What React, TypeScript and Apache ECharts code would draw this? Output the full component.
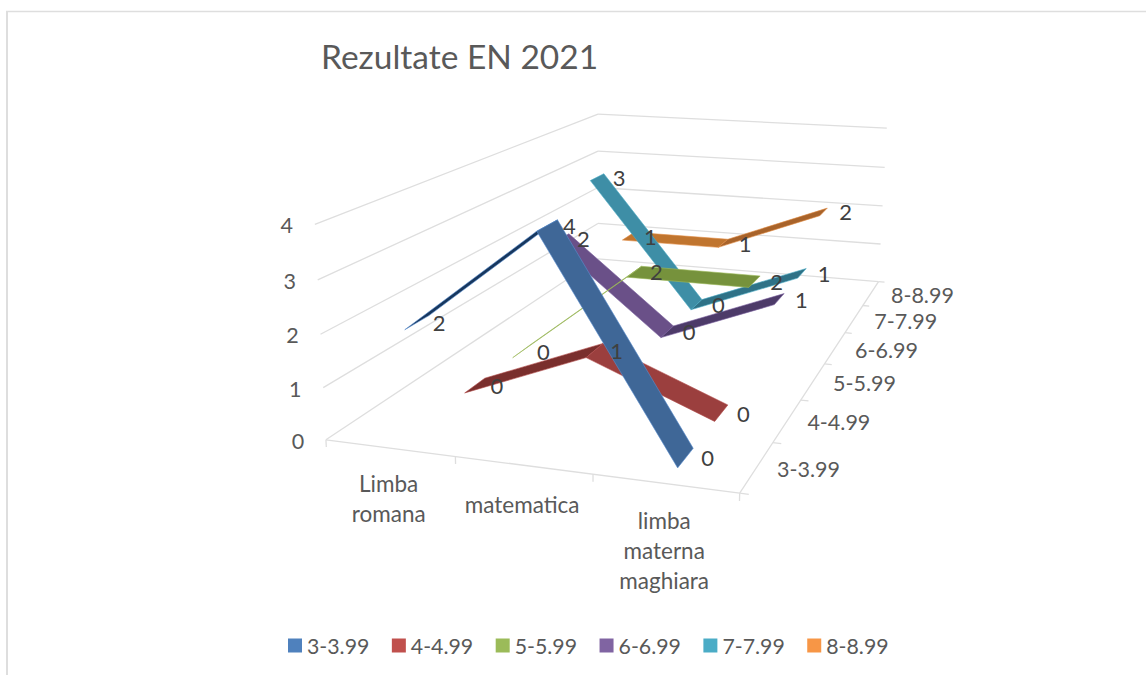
import React, { useEffect, useRef } from "react";
import * as echarts from "echarts";

const categories = ["Limba\nromana", "matematica", "limba\nmaterna\nmaghiara"];
const seriesNames = ["3-3.99", "4-4.99", "5-5.99", "6-6.99", "7-7.99", "8-8.99"];
const values3 = [2, 4, 0];
const values4 = [0, 1, 0];
const values5 = [0, 2, 2];
const values6 = [2, 0, 1];
const values7 = [3, 0, 1];
const values8 = [1, 1, 2];
const allValues = [values3, values4, values5, values6, values7, values8];
const valueTicks = [0, 1, 2, 3, 4];

const legendColors = ["#4f81bd", "#c0504d", "#9bbb59", "#8064a2", "#4bacc6", "#f79646"];
// colour of the two ribbon segments of each series (lit face)
const segmentColors = [
  ["#17375e", "#3f6797"],
  ["#7a2f2d", "#9b3f3e"],
  ["#8aa84e", "#76923c"],
  ["#6a5088", "#4d3b69"],
  ["#3e8ea6", "#2f7287"],
  ["#c0752f", "#a8632a"],
];
const edgeColors = ["#5b8fd0", "#b04a48", "#9dbb5c", "#7a5fa0", "#4bacc6", "#e08a40"];
const categoryLabelShift = [20, 24, 22];

// camera calibration: [x (category), y (value), z (series), screen x, screen y]
const calibration = [
  [0, 0, 0, 326, 440], [0, 1, 0, 323, 387], [0, 2, 0, 320, 334], [0, 3, 0, 318, 280], [0, 4, 0, 315, 225],
  [0, 0, 6, 598, 259], [0, 1, 6, 598, 223], [0, 2, 6, 598, 188], [0, 3, 6, 598, 151], [0, 4, 6, 598, 114],
  [3, 0, 6, 878, 282], [3, 1, 6, 881, 244], [3, 2, 6, 883, 206], [3, 3, 6, 884, 167], [3, 4, 6, 887, 128],
  [3, 0, 0, 740, 493],
];

function solveCamera(): number[] {
  const n = 11;
  const ata = Array.from({ length: n }, () => new Array(n + 1).fill(0));
  const add = (row: number[], rhs: number) => {
    for (let i = 0; i < n; i++) {
      for (let j = 0; j < n; j++) ata[i][j] += row[i] * row[j];
      ata[i][n] += row[i] * rhs;
    }
  };
  calibration.forEach(([x, y, z, px, py]) => {
    const u = px / 1000;
    const v = py / 1000;
    add([x, y, z, 1, 0, 0, 0, 0, -u * x, -u * y, -u * z], u);
    add([0, 0, 0, 0, x, y, z, 1, -v * x, -v * y, -v * z], v);
  });
  for (let c = 0; c < n; c++) {
    let p = c;
    for (let r = c + 1; r < n; r++) if (Math.abs(ata[r][c]) > Math.abs(ata[p][c])) p = r;
    [ata[c], ata[p]] = [ata[p], ata[c]];
    for (let r = 0; r < n; r++) {
      if (r === c) continue;
      const f = ata[r][c] / ata[c][c];
      for (let k = c; k <= n; k++) ata[r][k] -= f * ata[c][k];
    }
  }
  return ata.map((row, i) => row[n] / row[i]);
}

const cam = solveCamera();
function project(x: number, y: number, z: number): number[] {
  const w = cam[8] * x + cam[9] * y + cam[10] * z + 1;
  return [
    (1000 * (cam[0] * x + cam[1] * y + cam[2] * z + cam[3])) / w,
    (1000 * (cam[4] * x + cam[5] * y + cam[6] * z + cam[7])) / w,
  ];
}

const RIBBON_HALF_DEPTH = 0.2;
const FONT = "Lato, Carlito, 'Open Sans', sans-serif";
const GRID = "#dedede";
const TEXT = "#595959";

function line(a: number[], b: number[], width = 1.3) {
  return {
    type: "line",
    shape: { x1: a[0], y1: a[1], x2: b[0], y2: b[1] },
    style: { stroke: GRID, lineWidth: width },
    silent: true,
  };
}
function label(text: string, x: number, y: number, extra: any = {}) {
  return {
    type: "text",
    silent: true,
    z2: 1000,
    style: {
      text, x, y, fill: TEXT, fontSize: 21.5, fontFamily: FONT,
      align: "center", verticalAlign: "middle", ...extra,
    },
  };
}

function renderAxes() {
  const children: any[] = [];
  valueTicks.forEach((v) => {
    children.push(line(project(0, v, 0), project(0, v, 6)));
    children.push(line(project(0, v, 6), project(3, v, 6)));
    const p = project(0, v, 0);
    children.push(label(String(v), p[0] - 28, p[1] + 1));
  });
  children.push(line(project(0, 0, 0), project(3, 0, 0)));
  children.push(line(project(3, 0, 0), project(3, 0, 6)));
  for (let i = 0; i <= categories.length; i++) {
    children.push(line(project(i, 0, 0), project(i, -0.14, 0)));
  }
  for (let s = 0; s <= seriesNames.length; s++) {
    children.push(line(project(3, 0, s), project(3.06, 0, s)));
  }
  categories.forEach((c, i) => {
    const p = project(i + 0.5, 0, 0);
    children.push(label(c, p[0] - 1, p[1] + categoryLabelShift[i], { verticalAlign: "top", lineHeight: 30, fontSize: 22.5 }));
  });
  seriesNames.forEach((n, s) => {
    const p = project(3, 0, s + 0.5);
    children.push(label(n, p[0] + 20, p[1] + 2, { align: "left" }));
  });
  return { type: "group", children };
}

function makeRenderItem(s: number) {
  return (params: any, api: any) => {
    const i = api.value(0);
    const v = api.value(1);
    const children: any[] = [];
    const zc = s + 0.5;
    const x = i + 0.5;
    const vals = allValues[s];
    if (i < vals.length - 1) {
      const nv = vals[i + 1];
      const pts = [
        project(x, v, zc - RIBBON_HALF_DEPTH),
        project(x + 1, nv, zc - RIBBON_HALF_DEPTH),
        project(x + 1, nv, zc + RIBBON_HALF_DEPTH),
        project(x, v, zc + RIBBON_HALF_DEPTH),
      ];
      children.push({
        type: "polygon",
        shape: { points: pts },
        z2: (seriesNames.length - s) * 10 + (i === 0 ? 0 : 1),
        style: { fill: segmentColors[s][i], stroke: edgeColors[s], lineWidth: 0.6 },
      });
    }
    const c = project(x, v, zc);
    children.push(label(String(v), c[0] + 22, c[1], { fill: "#404040", fontSize: 22 }));
    return { type: "group", children };
  };
}

export default function App() {
  const ref = useRef<HTMLDivElement>(null);
  useEffect(() => {
    const chart = echarts.init(ref.current!, undefined, { renderer: "svg" });
    chart.setOption({
      animation: false,
      backgroundColor: "#ffffff",
      title: {
        text: "Rezultate EN 2021",
        left: 321,
        top: 39,
        padding: 0,
        textStyle: { color: TEXT, fontSize: 33.5, fontWeight: "normal", fontFamily: FONT },
      },
      legend: {
        data: seriesNames,
        left: 288,
        top: 635,
        padding: 0,
        icon: "rect",
        itemWidth: 14,
        itemHeight: 14,
        itemGap: 22.5,
        selectedMode: false,
        textStyle: { color: TEXT, fontSize: 21.3, fontFamily: FONT, padding: [0, 0, 0, 0] },
      },
      graphic: [
        { type: "line", shape: { x1: 6, y1: 11.5, x2: 1146, y2: 11.5 }, style: { stroke: GRID, lineWidth: 1.5 }, silent: true },
        { type: "line", shape: { x1: 7, y1: 11, x2: 7, y2: 675 }, style: { stroke: GRID, lineWidth: 2 }, silent: true },
      ],
      series: [
        {
          type: "custom",
          name: "axes",
          coordinateSystem: "none",
          data: [[0]],
          z: 2,
          silent: true,
          renderItem: () => renderAxes(),
        },
        ...seriesNames.map((name, s) => ({
          type: "custom",
          name,
          coordinateSystem: "none",
          data: allValues[s].map((v, i) => [i, v]),
          encode: { x: 0, y: 1 },
          z: 2,
          silent: true,
          itemStyle: { color: legendColors[s] },
          renderItem: makeRenderItem(s),
        })),
      ],
    });
    return () => chart.dispose();
  }, []);
  return <div ref={ref} style={{ position: "fixed", left: 0, top: 0, width: 1146, height: 675 }} />;
}
